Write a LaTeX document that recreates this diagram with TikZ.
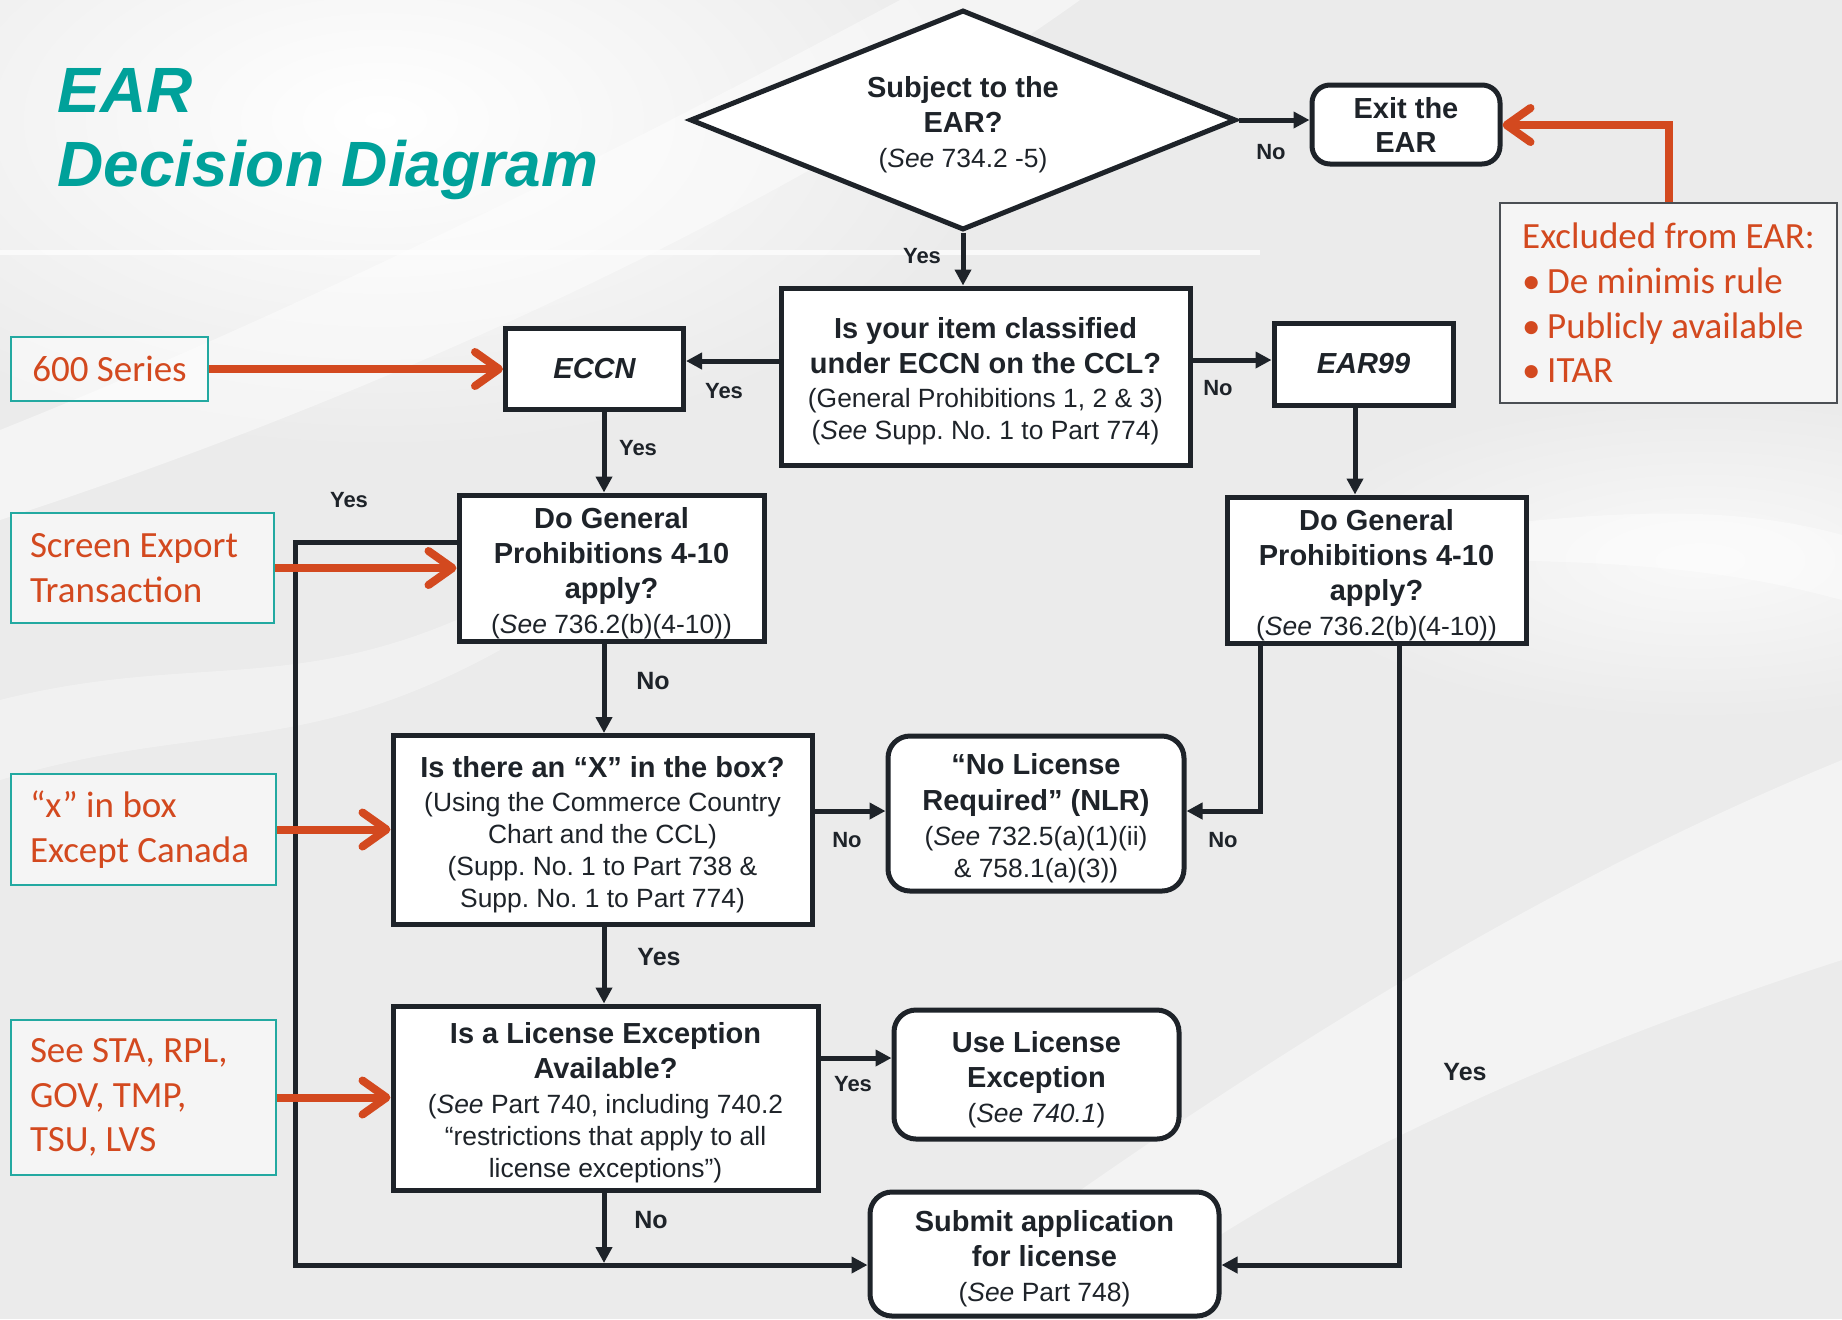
\documentclass[tikz,border=0pt]{standalone}
\usepackage{fontspec}
\setmainfont{Liberation Sans}
\newfontfamily\orfont{Carlito}
\usetikzlibrary{arrows.meta,shapes.geometric,calc}
\definecolor{ink}{HTML}{1E2329}
\definecolor{orred}{HTML}{D3491F}
\definecolor{tealb}{HTML}{23A9A1}
\definecolor{titleteal}{HTML}{00A19A}
\definecolor{bggray}{HTML}{EBEBEB}
\frenchspacing
\newcommand\flbold{\fontsize{14.5}{16}\selectfont\bfseries}
\newcommand\flreg{\fontsize{13.2}{16}\selectfont\mdseries\frenchspacing}
\newcommand\orsz{\orfont\fontsize{18.5}{22.3}\selectfont\frenchspacing}
\newcommand\bul{\makebox[12.5pt][l]{•}}
\newcommand\tstr{\rule{0pt}{15.6pt}}
\tikzset{
  fbox/.style={draw=ink, line width=2.5pt, fill=white, align=center, inner sep=0pt, font=\flreg, text=ink},
  rbox/.style={fbox, rounded corners=9pt},
  obox/.style={draw=tealb, line width=1.2pt, fill=white, fill opacity=0.55, text opacity=1, align=flush left, inner sep=0pt, font=\orsz, text=orred},
  exbox/.style={draw=ink!80, line width=1pt, fill=white, fill opacity=0.55, text opacity=1, align=left, inner sep=0pt, font=\orsz, text=orred},
  arr/.style={draw=ink, line width=2.5pt, -{Triangle[length=8pt,width=8pt]}},
  oarr/.style={draw=orred, line width=4pt, -{Straight Barb[length=12pt,width=17pt,line cap=round,line join=round]}},
  lbls/.style={font=\bfseries\fontsize{11}{13}\selectfont, text=ink, inner sep=0pt},
  lbll/.style={font=\bfseries\fontsize{12.5}{15}\selectfont, text=ink, inner sep=0pt},
  ttl/.style={font=\fontsize{32}{38}\selectfont\bfseries\itshape, text=titleteal, inner sep=0pt, anchor=base west}
}
\begin{document}
\begin{tikzpicture}[x=0.5pt,y=-0.5pt]
\useasboundingbox (0,0) rectangle (1842,1319);
% background
\begin{scope}
\clip (0,0) rectangle (1842,1319);
\fill[bggray] (0,0) rectangle (1842,1319);
\shade[inner color=white, outer color=bggray] (380,120) ellipse (620 and 330);
\shade[inner color=white!70!bggray, outer color=bggray] (1700,560) ellipse (420 and 160);
\fill[white,opacity=0.45] (0,430) .. controls (300,310) and (600,160) .. (900,0) -- (1080,0) .. controls (800,200) and (400,390) .. (0,520) -- cycle;
\fill[white,opacity=0.4] (900,1319) .. controls (1200,1100) and (1500,900) .. (1842,760) -- (1842,960) .. controls (1500,1070) and (1250,1200) .. (1100,1319) -- cycle;
\fill[white,opacity=0.45] (1450,530) .. controls (1650,505) and (1750,510) .. (1842,535) -- (1842,600) .. controls (1750,575) and (1650,560) .. (1450,560) -- cycle;
\fill[white,opacity=0.7] (0,250) rectangle (1260,255);
\fill[white,opacity=0.35] (0,700) .. controls (200,650) and (300,700) .. (500,600) -- (500,650) .. controls (300,760) and (200,720) .. (0,780) -- cycle;
\end{scope}

% title
\node[ttl] (t1) at (57,112) {EAR};
\node[ttl] (t2) at (57,186) {Decision Diagram};

% flowchart nodes
\node[diamond, draw=ink, line width=2.5pt, fill=white, aspect=2.48, minimum width=273pt, minimum height=110pt, inner sep=0pt, align=center, font=\flreg, text=ink] (dia) at (963,120)
  {{\flbold\tstr Subject to the}\\[1.5pt]{\flbold EAR?}\\[1.5pt](\textit{See} 734.2 -5)};
\node[rbox, minimum width=94pt, minimum height=39.5pt, font=\flbold] (exitb) at (1406,124.5) {Exit the\\[1pt]EAR};
\node[exbox, minimum width=168.5pt, minimum height=100pt] (excl) at (1668.5,303)
  {Excluded from EAR:\\\bul De minimis rule\\\bul Publicly available\\\bul ITAR};
\node[fbox, minimum width=204.5pt, minimum height=88.5pt] (q1) at (985.5,376.5)
  {{\flbold\tstr Is your item classified}\\[1.5pt]{\flbold under ECCN on the CCL?}\\[1pt](General Prohibitions 1, 2 \& 3)\\(\textit{See} Supp. No. 1 to Part 774)};
\node[fbox, minimum width=89pt, minimum height=40.5pt, font=\flbold\itshape] (eccn) at (594.5,369) {ECCN};
\node[fbox, minimum width=89.5pt, minimum height=41pt, font=\flbold\itshape] (ear99) at (1363.5,364) {EAR99};
\node[fbox, minimum width=152.5pt, minimum height=73pt] (gpl) at (611.5,568)
  {{\flbold\tstr Do General}\\[1.5pt]{\flbold Prohibitions 4-10}\\[1.5pt]{\flbold apply?}\\[1.5pt](\textit{See} 736.2(b)(4-10))};
\node[fbox, minimum width=149.5pt, minimum height=73pt] (gpr) at (1376.5,570)
  {{\flbold\tstr Do General}\\[1.5pt]{\flbold Prohibitions 4-10}\\[1.5pt]{\flbold apply?}\\[1.5pt](\textit{See} 736.2(b)(4-10))};
\node[fbox, minimum width=209.5pt, minimum height=94.5pt] (xbox) at (602.5,830)
  {{\flbold\tstr Is there an “X” in the box?}\\[1pt](Using the Commerce Country\\Chart and the CCL)\\(Supp. No. 1 to Part 738 \&\\Supp. No. 1 to Part 774)};
\node[rbox, minimum width=148pt, minimum height=77.5pt, rounded corners=11pt] (nlr) at (1036,813.5)
  {{\flbold\tstr “No License}\\[2pt]{\flbold Required” (NLR)}\\[1.5pt](\textit{See} 732.5(a)(1)(ii)\\\& 758.1(a)(3))};
\node[fbox, minimum width=212.5pt, minimum height=92pt] (le) at (605.5,1098)
  {{\flbold\tstr Is a License Exception}\\[1.5pt]{\flbold Available?}\\[1.5pt](\textit{See} Part 740, including 740.2\\“restrictions that apply to all\\license exceptions”)};
\node[rbox, minimum width=142.5pt, minimum height=64.5pt, rounded corners=11pt] (usele) at (1036.5,1074.5)
  {{\flbold\tstr Use License}\\[1.5pt]{\flbold Exception}\\[1.5pt](\textit{See 740.1})};
\node[rbox, minimum width=174.5pt, minimum height=62pt, rounded corners=11pt] (submit) at (1044.5,1254)
  {{\flbold\tstr Submit application}\\[1.5pt]{\flbold for license}\\[1.5pt](\textit{See} Part 748)};

% orange-text side boxes
\node[obox, minimum width=98.5pt, minimum height=32pt, align=center] (s600) at (109.5,369) {600 Series};
\node[obox, minimum width=131.5pt, minimum height=55pt, text width=112.5pt] (screen) at (142.5,568) {Screen Export\\Transaction};
\node[obox, minimum width=132.5pt, minimum height=55.5pt, text width=113.5pt] (xin) at (143.5,829.5) {“x” in box\\Except Canada};
\node[obox, minimum width=132.5pt, minimum height=77.5pt, text width=113.5pt] (sta) at (143.5,1097.5) {See STA, RPL,\\GOV, TMP,\\TSU, LVS};

% black connectors
\draw[arr] (dia.east) -- (exitb.west |- dia.east);
\draw[arr] (dia.south) -- (dia.south |- q1.north);
\draw[arr] (q1.west |- 0,361) -- (eccn.east |- 0,361);
\draw[arr] (q1.east |- 0,360) -- (ear99.west |- 0,360);
\draw[arr] (604,0 |- eccn.south) -- (604,0 |- gpl.north);
\draw[arr] (1355,0 |- ear99.south) -- (1355,0 |- gpr.north);
\draw[arr] (604,0 |- gpl.south) -- (604,0 |- xbox.north);
\draw[arr] (gpl.west |- 0,542) -| (295,1265) -- (submit.west |- 0,1265);
\draw[arr] (xbox.east |- 0,811) -- (nlr.west |- 0,811);
\draw[arr] (604,0 |- xbox.south) -- (604,0 |- le.north);
\draw[arr] (le.east |- 0,1058) -- (usele.west |- 0,1058);
\draw[arr] (604,0 |- le.south) -- (604,1263);
\draw[arr] (1260,0 |- gpr.south) |- (nlr.east |- 0,811);
\draw[arr] (1399,0 |- gpr.south) |- (submit.east |- 0,1265);

% orange connectors
\draw[oarr] (1669,0 |- excl.north) |- (exitb.east |- 0,125);
\draw[oarr] (s600.east) -- (eccn.west);
\draw[oarr] (screen.east) -- (gpl.west |- screen.east);
\draw[oarr] (xin.east) -- (xbox.west |- xin.east);
\draw[oarr] (sta.east) -- (le.west |- sta.east);

% labels
\node[lbls] (l1) at (1271,152) {No};
\node[lbls] (l2) at (922,256) {Yes};
\node[lbls] (l3) at (724,391) {Yes};
\node[lbls] (l4) at (1218,388) {No};
\node[lbls] (l5) at (638,448) {Yes};
\node[lbls] (l6) at (349,500) {Yes};
\node[lbll] (l7) at (653,681) {No};
\node[lbls] (l8) at (847,840) {No};
\node[lbls] (l9) at (1223,840) {No};
\node[lbll] (l10) at (659,957) {Yes};
\node[lbls] (l11) at (853,1084) {Yes};
\node[lbll] (l12) at (1465,1072) {Yes};
\node[lbll] (l13) at (651,1220) {No};
\end{tikzpicture}
\end{document}
